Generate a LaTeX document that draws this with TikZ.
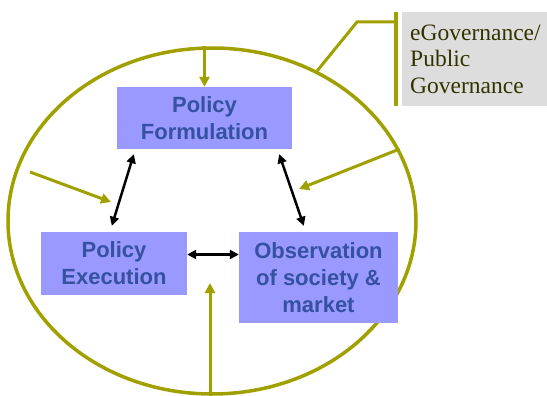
\documentclass[tikz,border=0pt]{standalone}
\usepackage{fontspec}
\setmainfont{Liberation Serif}
\setsansfont{Liberation Sans}
\usepackage{xcolor}
\usetikzlibrary{shapes.geometric,arrows.meta}

\definecolor{boxblue}{HTML}{9999FF}
\definecolor{boxtext}{HTML}{3551A0}
\definecolor{olive}{RGB}{160,160,0}
\definecolor{lblgray}{HTML}{DDDDDD}
\definecolor{lbltext}{HTML}{333300}

\begin{document}
\begin{tikzpicture} [x=1pt,y=-1pt,
  task/.style={rectangle,fill=boxblue,text=boxtext,align=center,inner sep=2pt,
    font=\sffamily\bfseries\fontsize{22}{27}\selectfont},
  feed/.style={olive,line width=3pt,-{Triangle[length=10pt,width=10pt]}},
  link/.style={black,line width=2.5pt,{Triangle[length=9pt,width=9pt]}-{Triangle[length=9pt,width=9pt]}}]
  \useasboundingbox (0,0) rectangle (547,396);

  \node[ellipse,draw=olive,line width=3.5pt,minimum width=408pt,minimum height=346pt] (gov) at (212,221) {};

  \node[task,minimum width=175pt,minimum height=62pt] (form) at (204.5,118) {Policy\\Formulation};
  \node[task,minimum width=146pt,minimum height=63pt] (exec) at (114,263.5) {Policy\\Execution};
  \node[task,minimum width=159pt,minimum height=91pt] (obs)  at (318.5,277.5) {Observation\\of society \&\\market};

  \node[rectangle,fill=lblgray,text=lbltext,anchor=north west,align=left,
    minimum width=145pt,minimum height=94pt,inner xsep=8pt,
    font=\fontsize{23.5}{26.5}\selectfont] (lbl) at (402,12) {eGovernance/\\Public\\Governance};

  \coordinate (inleft) at (30,172);
  \coordinate (tipleft) at (111,202);
  \coordinate (tipright) at (299,189);
  \coordinate (tipbottom) at (210,283);

  \draw[feed] (gov.north -| form.north) -- (form.north);
  \draw[feed] (inleft) -- (tipleft);
  \draw[feed] (gov.21) -- (tipright);
  \draw[feed] (gov.south -| tipbottom) -- (tipbottom);

  \draw[link] ([xshift=17pt,yshift=-5pt]form.south west) -- ([xshift=71pt,yshift=6pt]exec.north west);
  \draw[link] ([xshift=-13pt,yshift=-5pt]form.south east) -- ([xshift=65pt,yshift=6pt]obs.north west);
  \draw[link] ([yshift=9pt]exec.east) -- ([yshift=9pt]exec.east -| obs.west);

  \draw[olive,line width=3.5pt] ([xshift=-6pt]lbl.north west) -- ([xshift=-6pt]lbl.south west);
  \draw[olive,line width=3pt] ([xshift=-6pt,yshift=-10pt]lbl.north west) -- ++(-39,0) -- (gov.55);
\end{tikzpicture}
\end{document}
